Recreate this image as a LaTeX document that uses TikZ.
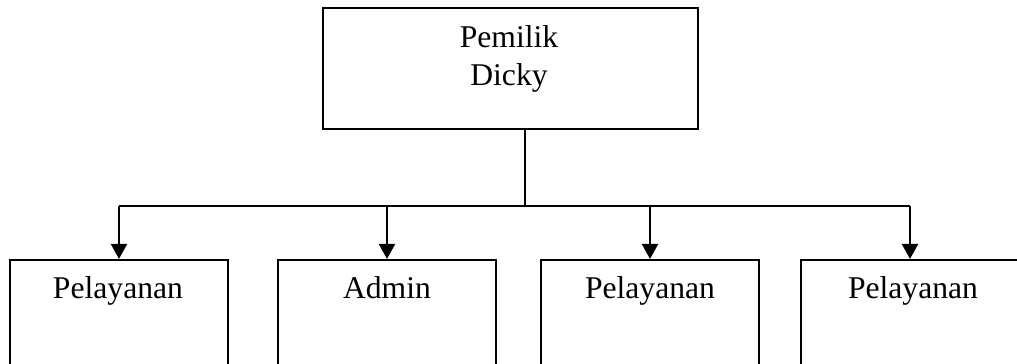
\documentclass[tikz,border=0pt]{standalone}
\usepackage{fontspec}
\setmainfont{Liberation Serif}
\usetikzlibrary{arrows.meta}

\begin{document}
\begin{tikzpicture}[x = 0.025cm, y = -0.025cm, > = {Triangle[length = 0.38cm, width = 0.4cm]},
	box/.style = {draw, line width = 1.2pt, minimum width = 5.45cm, minimum height = 3.5cm, anchor = north, inner sep = 0pt},
	caption/.style = {anchor = base, font = \fontsize{22.5}{27}\selectfont, inner sep = 0pt},
	link/.style = {line width = 1.9pt}]

	% Definitions
	
	\def\boxtop{259}	% Top of the lower boxes
	\def\busy{206}		% Height of the horizontal line
	
	\useasboundingbox (0, 0) rectangle (1017, 363);
	
	% Owner box
	
	\node [box, minimum width = 9.375cm, minimum height = 3.025cm] (owner) at (510.5, 7) {};
	\node [caption] (owner-1) at (509, 47) {Pemilik};
	\node [caption] (owner-2) at (509, 85) {Dicky};
	
	% Lower boxes
	
	\node [box] (serve-a) at (119, \boxtop) {};
	\node [box] (admin) at (387, \boxtop) {};
	\node [box] (serve-b) at (650, \boxtop) {};
	\node [box] (serve-c) at (910, \boxtop) {};
	
	\node [caption] (serve-a-t) at (118, 298) {Pelayanan};
	\node [caption] (admin-t) at (387, 298) {Admin};
	\node [caption] (serve-b-t) at (650, 298) {Pelayanan};
	\node [caption] (serve-c-t) at (913, 298) {Pelayanan};
	
	% Connectors
	
	\coordinate (bus) at (525, \busy);
	
	\draw [link] (owner.south -| bus) -- (bus);
	\draw [link] (serve-a.north |- bus) -- (serve-c.north |- bus);
	
	\foreach \n in {serve-a, admin, serve-b, serve-c}
		\draw [link, ->] (\n.north |- bus) -- (\n.north);
	
\end{tikzpicture}
\end{document}
